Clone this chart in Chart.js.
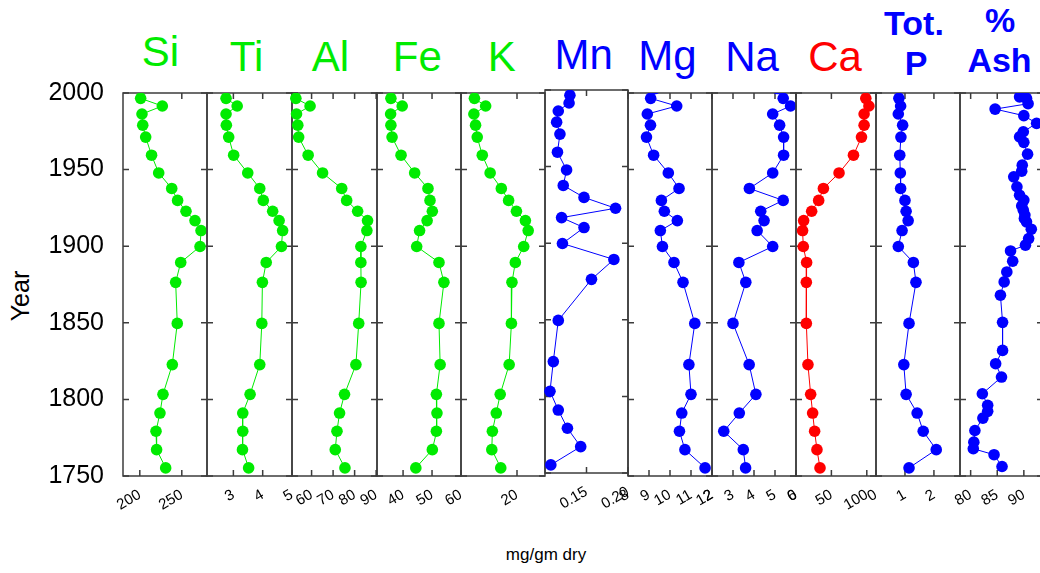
<!DOCTYPE html>
<html lang="en">
<head>
<meta charset="utf-8" />
<title>Core profiles</title>
<style>
  * { margin: 0; padding: 0; }
  body {
    width: 1040px;
    height: 573px;
    overflow: hidden;
    position: relative;
    background: #fff;
    font-family: "Liberation Sans", Arial, sans-serif;
  }
  canvas { position: absolute; top: 0; }
  .head { position: absolute; transform: translateX(-50%); line-height: 1; white-space: nowrap; }
  #year {
    position: absolute; left: 20px; top: 296px; font-size: 25px; line-height: 1;
    transform: translate(-50%, -50%) rotate(-90deg);
  }
  #units { position: absolute; left: 546px; top: 546px; transform: translateX(-50%); font-size: 17px; line-height: 1; }
</style>
</head>
<body>
<div id="year">Year</div>
<div id="units">mg/gm dry</div>

<script src="https://cdn.jsdelivr.net/npm/chart.js"></script>
<script>
// sample depths converted to years (same cores for most elements)
const sampleYears = [1996.5, 1991.5, 1986.3, 1979.0, 1971.2, 1959.4, 1947.8, 1937.7, 1929.9, 1922.8, 1916.7,
  1910.2, 1899.8, 1889.4, 1876.4, 1849.6, 1822.7, 1803.3, 1791.1, 1779.2, 1767.2, 1755.3];
const yearTicks = [1750, 1800, 1850, 1900, 1950, 2000];

const siValues = [201, 226.8, 202.6, 203.5, 207, 214, 222.5, 238, 245, 255, 265.7, 272.9, 271.7, 248.7, 242.7,
  244.6, 238.7, 227.6, 224, 219.3, 220, 230.8];
const tiValues = [2.75, 3.13, 2.75, 2.76, 2.84, 3.01, 3.49, 3.9, 4.02, 4.34, 4.56, 4.68, 4.64, 4.12, 3.99,
  3.97, 3.9, 3.57, 3.32, 3.32, 3.31, 3.52];
const alValues = [52.7, 59.3, 53.0, 53.6, 54.0, 58.4, 65.1, 74.0, 76.3, 81.4, 86.0, 85.7, 82.9, 82.9, 83.0,
  81.9, 80.6, 75.3, 73.0, 71.8, 71.0, 75.5];
const feValues = [35.8, 39.7, 35.7, 35.8, 36.2, 39.3, 44.0, 48.6, 49.3, 50.1, 48.3, 45.7, 44.7, 52.4, 54.1,
  52.4, 52.8, 51.5, 51.7, 51.5, 50.1, 44.4];
const kValues = [12.4, 14.4, 12.3, 12.6, 12.9, 13.8, 15.2, 17.2, 18.5, 19.9, 21.5, 22.0, 21.2, 19.7, 19.1,
  19.0, 18.6, 17.0, 16.3, 15.6, 15.5, 17.1];
const mnValues = [0.130, 0.129, 0.116, 0.114, 0.118, 0.115, 0.126, 0.122, 0.147, 0.185, 0.120, 0.147, 0.121,
  0.183, 0.156, 0.116, 0.110, 0.106, 0.116, 0.127, 0.143, 0.107];
// Mg and Na have one more sample just above the top of the plot
const leadYear = 2003;
const mgValues = [9.3, 9.08, 10.32, 8.92, 9.07, 8.88, 9.22, 9.92, 10.43, 9.59, 9.73, 10.35, 9.54, 9.64, 10.19,
  10.62, 11.18, 10.9, 11.0, 10.56, 10.45, 10.71, 11.67];
const naValues = [5.1, 5.39, 5.74, 4.89, 5.22, 5.41, 5.41, 4.89, 3.78, 5.39, 4.32, 4.48, 4.15, 4.89, 3.28,
  3.61, 3.0, 3.77, 4.09, 3.3, 2.56, 3.49, 3.6];
const caValues = [98.6, 103, 96.2, 96.2, 92.5, 81.2, 60.8, 38.7, 32.0, 22.1, 10.8, 9.3, 10.3, 15.0, 14.6,
  14.6, 16.9, 20.7, 23.5, 26.3, 29.6, 33.9];
const totPValues = [0.79, 0.85, 0.77, 0.92, 0.86, 0.82, 0.84, 0.85, 1.0, 1.04, 1.11, 0.9, 0.77, 1.29, 1.38,
  1.14, 0.96, 1.04, 1.42, 1.63, 2.08, 1.14];

const ashYears = [1999.0, 1997.5, 1996.5, 1993.0, 1989.5, 1985.2, 1980.2, 1974.7, 1971.4, 1967.8, 1960.1,
  1952.9, 1949.0, 1945.3, 1938.8, 1933.3, 1930.1, 1926.4, 1923.5, 1920.3, 1918.1, 1915.9, 1911.1, 1905.0,
  1900.7, 1896.9, 1890.2, 1883.2, 1876.7, 1868.0, 1850.3, 1832.0, 1823.3, 1814.6, 1803.7, 1796.1, 1792.2,
  1787.8, 1779.7, 1772.1, 1767.8, 1763.9, 1756.2];
const ashValues = [89.9, 89.2, 90.5, 90.8, 84.6, 90.0, 92.4, 89.9, 89.2, 90.0, 90.7, 89.7, 89.6, 88.1, 88.7,
  89.2, 90.0, 89.6, 89.9, 90.2, 90.1, 90.5, 91.4, 90.9, 90.3, 87.5, 87.9, 86.8, 86.3, 85.6, 86.0, 86.0, 84.7,
  85.8, 82.2, 83.2, 83.2, 82.3, 80.8, 80.6, 80.5, 84.4, 85.9];

// x tick values per panel
const siTicks = [200, 250];
const tiTicks = [3, 4, 5];
const alTicks = [60, 70, 80, 90];
const feTicks = [40, 50, 60];
const kTicks = [20];
const mnTicks = [0.15, 0.2];
const mgTicks = [8, 9, 10, 11, 12];
const naTicks = [2, 3, 4, 5, 6];
const caTicks = [0, 50, 100];
const totPTicks = [0, 1, 2];
const ashTicks = [80, 85, 90];

const GREEN = "rgb(0, 235, 0)";
const BLUE = "rgb(0, 0, 255)";
const RED = "rgb(255, 0, 0)";
const H = 573;
const TOP = 93;
const BOTTOM = 476;
const SIDE = 45;

const panels = [
  { years: sampleYears, values: siValues, ticks: siTicks, min: 180, max: 280, left: 123, right: 207, color: GREEN },
  { years: sampleYears, values: tiValues, ticks: tiTicks, min: 2.1, max: 5.0, left: 207, right: 292, color: GREEN },
  { years: sampleYears, values: alValues, ticks: alTicks, min: 50.9, max: 90.4, left: 292, right: 377, color: GREEN },
  { years: sampleYears, values: feValues, ticks: feTicks, min: 31, max: 60, left: 377, right: 461, color: GREEN },
  { years: sampleYears, values: kValues, ticks: kTicks, min: 10, max: 25, left: 461, right: 545, color: GREEN },
  { years: sampleYears, values: mnValues, ticks: mnTicks, min: 0.1, max: 0.2, left: 545, right: 628, color: BLUE, shift: -3, fmt: (v) => v.toFixed(2) },
  { years: [leadYear, ...sampleYears], values: mgValues, ticks: mgTicks, min: 8, max: 12, left: 628, right: 712, color: BLUE },
  { years: [leadYear, ...sampleYears], values: naValues, ticks: naTicks, min: 2, max: 6, left: 712, right: 796, color: BLUE },
  { years: sampleYears, values: caValues, ticks: caTicks, min: 0, max: 113, left: 796, right: 876, color: RED },
  { years: sampleYears, values: totPValues, ticks: totPTicks, min: 0, max: 2.9, left: 876, right: 960, color: BLUE },
  { years: ashYears, values: ashValues, ticks: ashTicks, min: 78, max: 93.6, left: 960, right: 1043, color: BLUE },
];

const headings = [
  { text: "Si", x: 160.5, base: 66.7, size: 42, color: GREEN },
  { text: "Ti", x: 246.5, base: 72, size: 42, color: GREEN },
  { text: "Al", x: 330.5, base: 72, size: 42, color: GREEN },
  { text: "Fe", x: 417.3, base: 71.7, size: 42, color: GREEN },
  { text: "K", x: 501.7, base: 72, size: 42, color: GREEN },
  { text: "Mn", x: 583.7, base: 70, size: 42, color: BLUE },
  { text: "Mg", x: 667.5, base: 71, size: 42, color: BLUE },
  { text: "Na", x: 752, base: 72, size: 42, color: BLUE },
  { text: "Ca", x: 835, base: 71.7, size: 42, color: RED },
  { text: "Tot.", x: 914, base: 35, size: 34, color: BLUE, bold: true },
  { text: "P", x: 916, base: 75, size: 34, color: BLUE, bold: true },
  { text: "%", x: 1000, base: 32, size: 34, color: BLUE, bold: true },
  { text: "Ash", x: 999.5, base: 72, size: 34, color: BLUE, bold: true },
];

headings.forEach((h) => {
  const d = document.createElement("div");
  d.className = "head";
  d.textContent = h.text;
  d.style.left = h.x + "px";
  d.style.top = h.base - 0.8465 * h.size + "px";
  d.style.fontSize = h.size + "px";
  d.style.color = h.color;
  if (h.bold) d.style.fontWeight = "bold";
  document.body.appendChild(d);
});

Chart.defaults.font.family = '"Liberation Sans", Arial, sans-serif';
Chart.defaults.color = "#000";

// box round every panel, ticks pointing inwards
const framePlugin = {
  id: "frame",
  beforeDatasetsDraw(chart) {
    const {
      ctx,
      chartArea: { left, right, top, bottom },
      scales: { x, y },
    } = chart;
    ctx.save();
    ctx.strokeStyle = "#3c3c3c";
    ctx.lineWidth = 1.5;
    ctx.strokeRect(left, top, right - left, bottom - top);
    ctx.beginPath();
    x.ticks.forEach((t) => {
      const px = x.getPixelForValue(t.value);
      ctx.moveTo(px, bottom);
      ctx.lineTo(px, bottom - 6);
      ctx.moveTo(px, top);
      ctx.lineTo(px, top + 6);
    });
    yearTicks.forEach((v) => {
      const py = y.getPixelForValue(v);
      ctx.moveTo(left, py);
      ctx.lineTo(left + 6, py);
      ctx.moveTo(right, py);
      ctx.lineTo(right - 6, py);
    });
    ctx.stroke();
    ctx.restore();
  },
};

function makePanel(p, i) {
  const first = i === 0;
  const canvasLeft = first ? 0 : p.left - SIDE;
  const width = p.right - canvasLeft + SIDE;
  const canvas = document.createElement("canvas");
  canvas.width = width;
  canvas.height = H;
  canvas.style.left = canvasLeft + "px";
  canvas.style.top = (p.shift || 0) + "px";
  document.body.appendChild(canvas);

  new Chart(canvas, {
    type: "scatter",
    data: {
      datasets: [
        {
          data: p.years.map((yr, j) => ({ x: p.values[j], y: yr })),
          showLine: true,
          borderColor: p.color,
          borderWidth: 1,
          backgroundColor: p.color,
          pointBackgroundColor: p.color,
          pointBorderWidth: 0,
          pointRadius: 5.8,
          clip: { left: 12, right: 12, top: 0, bottom: 12 },
        },
      ],
    },
    options: {
      responsive: false,
      animation: false,
      events: [],
      layout: { padding: { left: first ? 0 : SIDE, right: SIDE, top: TOP, bottom: 0 } },
      plugins: { legend: { display: false }, tooltip: { enabled: false } },
      scales: {
        x: {
          type: "linear",
          min: p.min,
          max: p.max,
          afterBuildTicks: (s) => {
            s.ticks = p.ticks.map((v) => ({ value: v }));
          },
          afterFit: (s) => {
            s.height = H - BOTTOM;
          },
          grid: { display: false },
          border: { display: false },
          ticks: {
            autoSkip: false,
            minRotation: 30,
            maxRotation: 30,
            padding: 2,
            font: { size: 15 },
            callback: (v) => (p.fmt ? p.fmt(v) : String(v)),
          },
        },
        y: {
          type: "linear",
          min: 1750,
          max: 2000,
          display: first,
          afterBuildTicks: (s) => {
            s.ticks = yearTicks.map((v) => ({ value: v }));
          },
          afterFit: (s) => {
            s.width = first ? p.left : 0;
          },
          grid: { display: false },
          border: { display: false },
          ticks: { padding: 11, font: { size: 25 }, callback: (v) => String(v) },
        },
      },
    },
    plugins: [framePlugin],
  });
}

panels.forEach(makePanel);
</script>
</body>
</html>
